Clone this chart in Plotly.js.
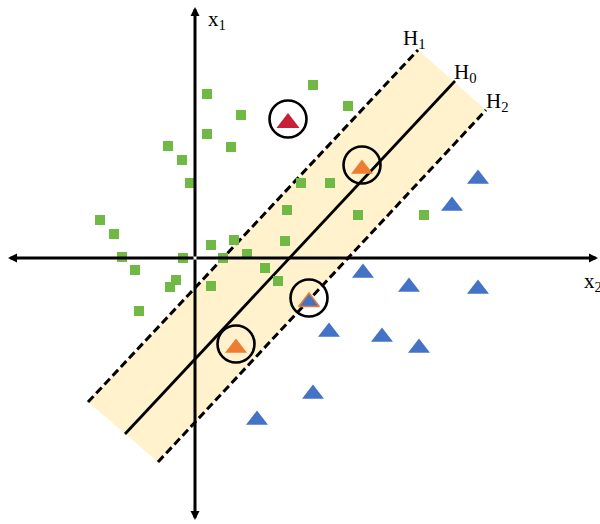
<!DOCTYPE html>
<html>
<head>
<meta charset="utf-8">
<script src="https://cdn.plot.ly/plotly-3.0.1.min.js"></script>
<style>
  html, body { margin: 0; padding: 0; background: #fff; }
  #myDiv { width: 600px; height: 524px; }
</style>
</head>
<body>
<div id="myDiv"></div>
<script>
// class 1 (squares), coordinates relative to the axes origin
var greenX = [12, 46, 118, 153, 12, -27, 36, -13, -5, 106, 135, 92, 163, 229, -95,
              -81, 16, 39, 90, 52, -73, -12, 28, 70, -60, 83, -19, -25, 16, -56];
var greenY = [164, 143, 173, 152, 124, 112, 111, 98, 75, 75, 75, 48, 43, 43, 38,
              24, 13, 18, 17, 4, 1, 0, 0, -10, -12, -23, -22, -29, -28, -53];

// class 2 (triangles)
var blueX = [283, 257, 168, 214, 283, 134, 187, 224, 118, 62];
var blueY = [79, 52, -15, -29, -31, -74, -79, -90, -136, -162];

// support vectors
var supportX = [167, 41];
var supportY = [89, -90];
var blueSupportX = [114];
var blueSupportY = [-44];

// misclassified point
var outlierX = [93];
var outlierY = [135];

// hyperplanes
var h1X = [-107, 223], h1Y = [-144, 208];
var h0X = [-70, 260],  h0Y = [-176, 177];
var h2X = [-37, 291],  h2Y = [-204, 148];

// circles sit on the visual centre of the triangles
var circleX = supportX.concat(blueSupportX, outlierX);
var circleY = supportY.concat(blueSupportY, outlierY).map(function (v) { return v + 4; });

var data = [{
  x: [h1X[0], h1X[1], h2X[1], h2X[0]],
  y: [h1Y[0], h1Y[1], h2Y[1], h2Y[0]],
  mode: 'lines',
  fill: 'toself',
  fillcolor: '#fff2cc',
  line: {width: 0},
  type: 'scatter'
}, {
  x: h1X, y: h1Y, mode: 'lines',
  line: {color: '#000', width: 3, dash: '8px,4px'},
  type: 'scatter'
}, {
  x: h2X, y: h2Y, mode: 'lines',
  line: {color: '#000', width: 3, dash: '8px,4px'},
  type: 'scatter'
}, {
  x: h0X, y: h0Y, mode: 'lines',
  line: {color: '#000', width: 2.8},
  type: 'scatter'
}, {
  x: greenX, y: greenY, mode: 'markers',
  marker: {symbol: 'square', size: 10, color: '#70b944', line: {width: 0}},
  type: 'scatter'
}, {
  x: blueX, y: blueY, mode: 'markers',
  marker: {symbol: 'triangle-up', size: 19, color: '#4472c4', line: {width: 0}},
  type: 'scatter'
}, {
  x: blueSupportX, y: blueSupportY, mode: 'markers',
  marker: {symbol: 'triangle-up', size: 18, color: '#4472c4', line: {width: 1.5, color: '#ed7d31'}},
  type: 'scatter'
}, {
  x: supportX, y: supportY, mode: 'markers',
  marker: {symbol: 'triangle-up', size: 19, color: '#ed7d31', line: {width: 0}},
  type: 'scatter'
}, {
  x: outlierX, y: outlierY, mode: 'markers',
  marker: {symbol: 'triangle-up', size: 20, color: '#c8203a', line: {width: 0}},
  type: 'scatter'
}, {
  x: circleX, y: circleY, mode: 'markers',
  marker: {symbol: 'circle-open', size: 37, color: '#000', line: {width: 2.6, color: '#000'}},
  type: 'scatter'
}];

function axisArrow(x, y) {
  return {
    x: x, y: y, ax: 0, ay: 0, xref: 'x', yref: 'y', axref: 'x', ayref: 'y',
    text: '', showarrow: true, arrowhead: 2, arrowsize: 0.6, arrowwidth: 3,
    arrowcolor: '#000'
  };
}

function label(text, x, y) {
  return {
    x: x, y: y, xref: 'x', yref: 'y', text: text, showarrow: false,
    xanchor: 'left', yanchor: 'middle',
    font: {family: 'Liberation Serif, Times New Roman, serif', size: 21, color: '#000'}
  };
}

var layout = {
  width: 600,
  height: 524,
  margin: {l: 0, r: 0, t: 0, b: 0},
  showlegend: false,
  hovermode: false,
  paper_bgcolor: '#fff',
  plot_bgcolor: '#fff',
  xaxis: {range: [-195, 405], visible: false, fixedrange: true},
  yaxis: {range: [-266, 258], visible: false, fixedrange: true},
  annotations: [
    axisArrow(403, 0), axisArrow(-187, 0), axisArrow(0, 251), axisArrow(0, -262),
    label('x<sub>1</sub>', 11, 238),
    label('x<sub>2</sub>', 387, -24),
    label('H<sub>1</sub>', 206, 219),
    label('H<sub>0</sub>', 257, 185),
    label('H<sub>2</sub>', 289, 156)
  ]
};

Plotly.newPlot('myDiv', data, layout, {displayModeBar: false, staticPlot: true});
</script>
</body>
</html>
